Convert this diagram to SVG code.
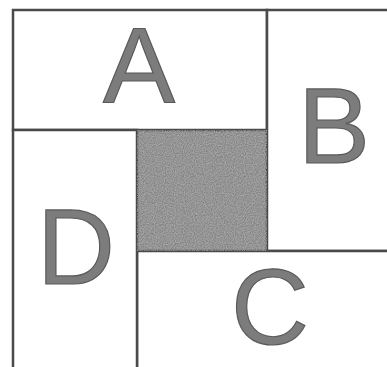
<svg xmlns="http://www.w3.org/2000/svg" width="387" height="367" viewBox="0 0 387 367">
<defs>
<filter id="grain" x="0" y="0" width="100%" height="100%">
<feTurbulence type="fractalNoise" baseFrequency="0.9" numOctaves="2" seed="3" result="n"/>
<feColorMatrix in="n" type="matrix" values="0 0 0 0 0.5  0 0 0 0 0.5  0 0 0 0 0.5  0 0 0 1.2 -0.35" result="m"/>
<feComposite in="m" in2="SourceGraphic" operator="in" result="c"/>
<feMerge><feMergeNode in="SourceGraphic"/><feMergeNode in="c"/></feMerge>
</filter>
</defs>
<style>
.box{fill:#ffffff;stroke:#4a4a4a;stroke-width:2.5}
.core{fill:#858585;stroke:#4a4a4a;stroke-width:2.5}
.lbl{font-family:"Liberation Sans",Arial,sans-serif;font-size:108px;fill:#7c7c7c;stroke:#5a5a5a;stroke-width:1.2;text-anchor:middle}
</style>
<rect width="387" height="367" fill="#ffffff"/>
<g id="A">
<rect class="box" x="13" y="10" width="254" height="120"/>
<text class="lbl" x="139" y="103">A</text>
</g>
<g id="B">
<rect class="box" x="267" y="10" width="130" height="241"/>
<text class="lbl" x="334" y="163">B</text>
</g>
<g id="C">
<rect class="box" x="137" y="251" width="260" height="130"/>
<text class="lbl" x="270" y="344">C</text>
</g>
<g id="D">
<rect class="box" x="13" y="130" width="124" height="250"/>
<text class="lbl" x="76" y="284">D</text>
</g>
<g id="center">
<rect class="core" x="137" y="130" width="130" height="121" filter="url(#grain)"/>
</g>
<g id="connectors"></g>
</svg>
